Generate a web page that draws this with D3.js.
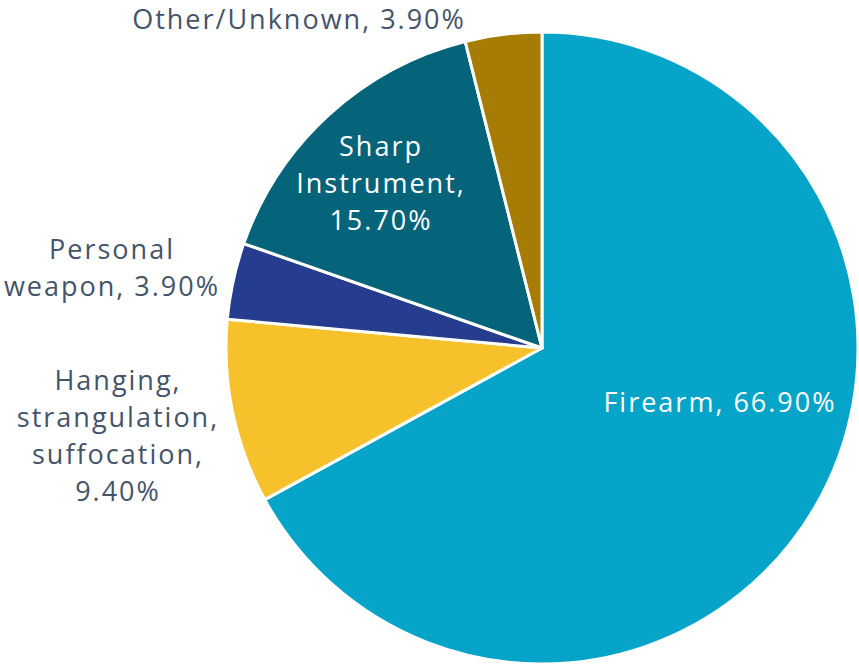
<!DOCTYPE html>
<html>
<head>
<meta charset="utf-8">
<script src="https://cdn.jsdelivr.net/npm/d3@7"></script>
<style>
  html, body { margin: 0; padding: 0; background: #ffffff; }
  svg text { font-family: "Open Sans", Lato, sans-serif; }
</style>
</head>
<body>
<svg id="chart" width="859" height="665"></svg>
<script>
// Method of homicide, share of cases
const categories = ["Firearm", "Hanging, strangulation, suffocation", "Personal weapon", "Sharp Instrument", "Other/Unknown"];
const shares = [66.9, 9.4, 3.9, 15.7, 3.9];
const colors = ["#05a4c8", "#f6c12a", "#263c8e", "#05637a", "#a67c04"];

// label text lines and anchor positions (centre x, first baseline y)
const labelLines = [
  ["Firearm, 66.90%"],
  ["Hanging,", "strangulation,", "suffocation,", "9.40%"],
  ["Personal", "weapon, 3.90%"],
  ["Sharp", "Instrument,", "15.70%"],
  ["Other/Unknown, 3.90%"]
];
const labelPos = [[720, 412], [118, 390], [112, 259], [381, 156], [299, 29]];
const labelFill = ["#ffffff", "#44546a", "#44546a", "#ffffff", "#44546a"];

const svg = d3.select("#chart");
const cx = 542, cy = 348, r = 316;

const pie = d3.pie().sort(null).value(d => d.v);
const arc = d3.arc().innerRadius(0).outerRadius(r);
const data = categories.map((c, i) => ({ c, v: shares[i], i }));

const g = svg.append("g").attr("transform", `translate(${cx},${cy})`);
g.selectAll("path")
  .data(pie(data))
  .join("path")
  .attr("d", arc)
  .attr("fill", d => colors[d.data.i])
  .attr("stroke", "#ffffff")
  .attr("stroke-width", 3)
  .attr("stroke-linejoin", "round");

const lineH = 37;
labelLines.forEach((lines, i) => {
  const t = svg.append("text")
    .attr("text-anchor", "middle")
    .attr("font-size", 27)
    .attr("letter-spacing", 2)
    .attr("fill", labelFill[i]);
  lines.forEach((ln, k) => {
    t.append("tspan")
      .attr("x", labelPos[i][0])
      .attr("y", labelPos[i][1] + k * lineH)
      .text(ln);
  });
});
</script>
</body>
</html>
